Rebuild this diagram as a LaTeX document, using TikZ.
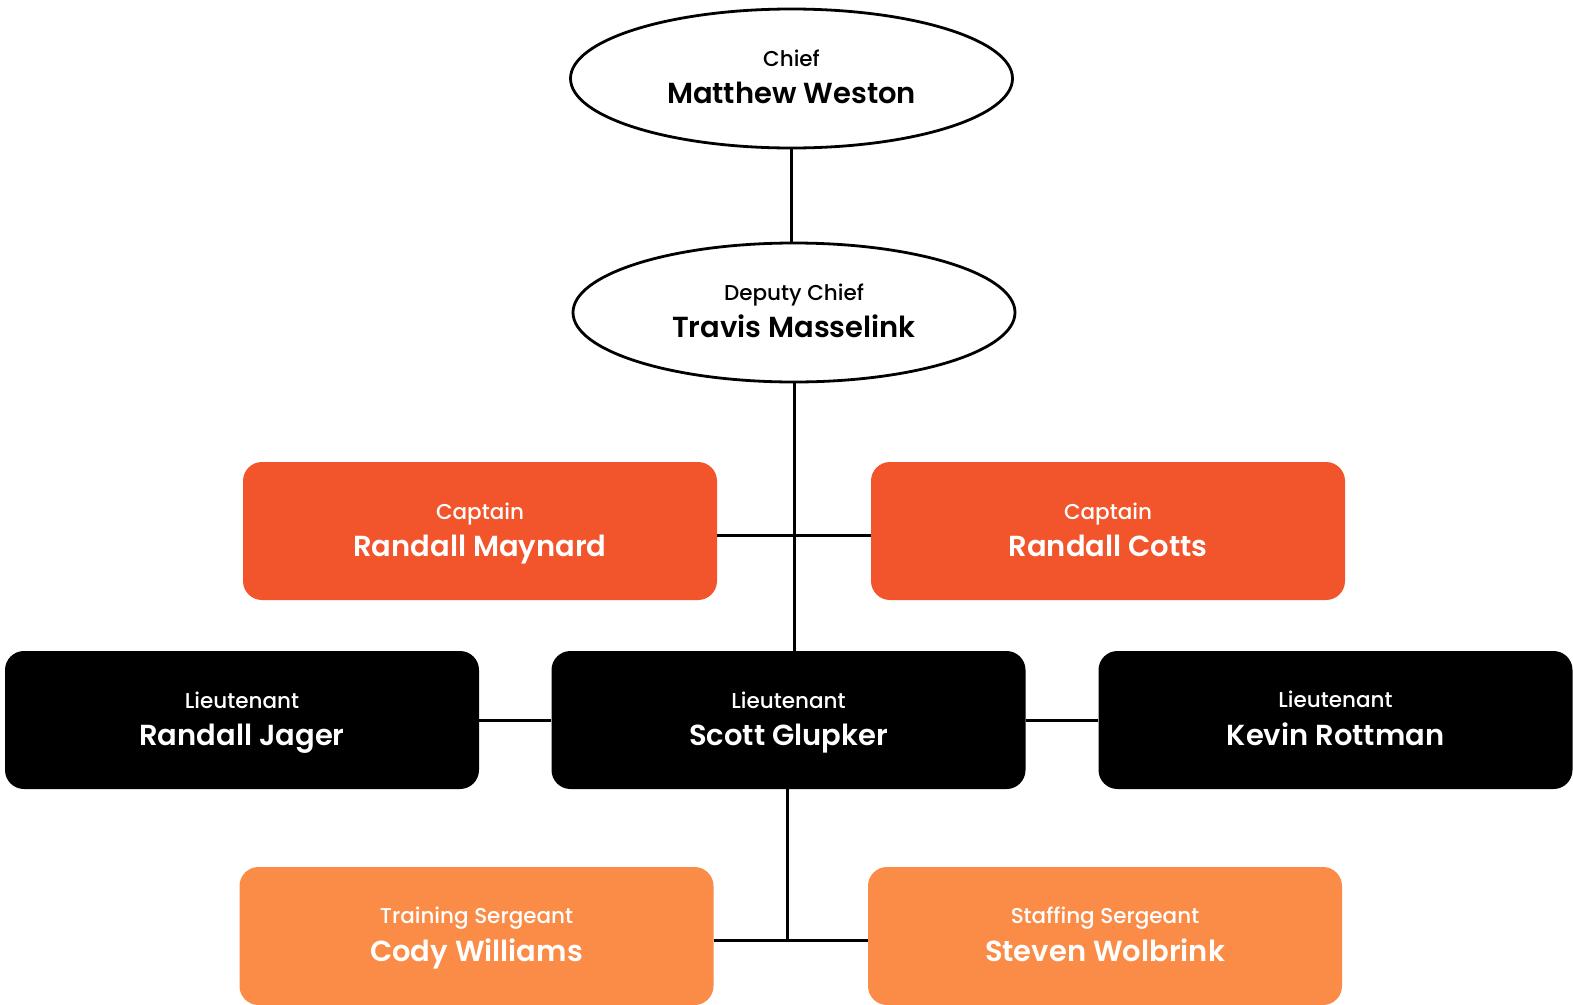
\documentclass[tikz,border=0pt]{standalone}
\usepackage{fontspec}
\setmainfont{Poppins}
\newfontfamily\labelfont{Poppins Medium}
\newfontfamily\namefont{Poppins SemiBold}
\usetikzlibrary{shapes.geometric}
\definecolor{capt}{HTML}{F2552C}
\definecolor{serg}{HTML}{FB8C47}
\newcommand{\rolename}[2]{{\labelfont\fontsize{21.5}{26}\selectfont\rule[-6pt]{0pt}{27pt}#1}\\[8pt]{\namefont\fontsize{29}{34}\selectfont\rule[-8pt]{0pt}{30pt}#2}}
\tikzset{
  x=1pt, y=-1pt,
  conn/.style={line width=3pt, black},
  oval/.style={ellipse, draw=black, line width=2.8pt, fill=white, minimum width=442pt, minimum height=139pt, text=black, align=center, inner sep=0pt},
  card/.style={rectangle, rounded corners=19pt, minimum width=474pt, minimum height=138pt, text=white, align=center, inner sep=0pt},
  captbox/.style={card, fill=capt},
  ltbox/.style={card, fill=black},
  sergbox/.style={card, fill=serg},
}
\begin{document}
\begin{tikzpicture}
\useasboundingbox (0,0) rectangle (1573,1004);
\fill[white] (0,0) rectangle (1573,1004);
\coordinate (capj) at (791,535);
\coordinate (sgj) at (787,940);
\node[oval] (chief) at (791.5,78.5) {\rolename{Chief}{Matthew Weston}};
\node[oval] (deputy) at (794,312.5) {\rolename{Deputy Chief}{Travis Masselink}};
\node[captbox] (maynard) at (480,531) {\rolename{Captain}{Randall Maynard}};
\node[captbox] (cotts) at (1108,531) {\rolename{Captain}{Randall Cotts}};
\node[ltbox] (jager) at (242,720) {\rolename{Lieutenant}{Randall Jager}};
\node[ltbox] (glupker) at (788.5,720) {\rolename{Lieutenant}{Scott Glupker}};
\node[ltbox] (rottman) at (1335.5,720) {\rolename{Lieutenant}{Kevin Rottman}};
\node[sergbox] (williams) at (476.5,936) {\rolename{Training Sergeant}{Cody Williams}};
\node[sergbox] (wolbrink) at (1105,936) {\rolename{Staffing Sergeant}{Steven Wolbrink}};
\draw[conn] (chief.south) -- (chief.south |- deputy.north);
\draw[conn] (deputy.south) -- (deputy.south |- glupker.north);
\draw[conn] (maynard.east |- capj) -- (cotts.west |- capj);
\draw[conn] (jager.east) -- (glupker.west);
\draw[conn] (glupker.east) -- (rottman.west);
\draw[conn] (glupker.south -| sgj) -- (sgj);
\draw[conn] (williams.east |- sgj) -- (wolbrink.west |- sgj);
\end{tikzpicture}
\end{document}
